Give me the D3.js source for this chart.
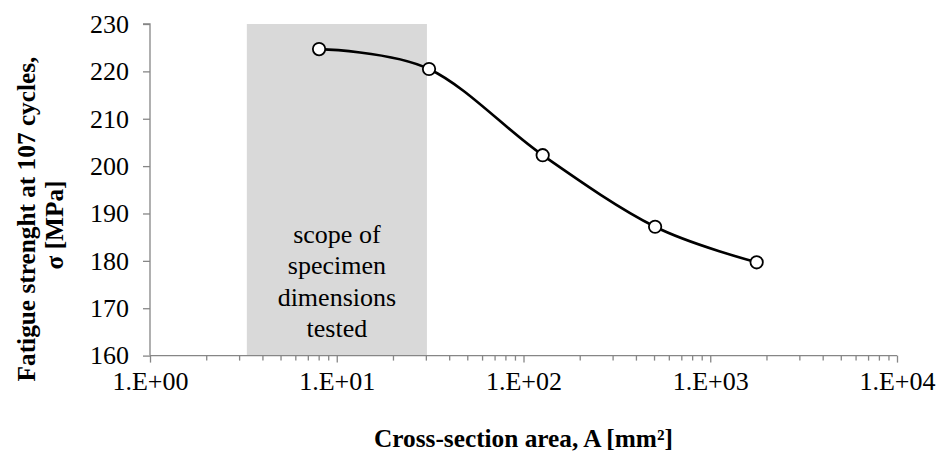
<!DOCTYPE html>
<html><head><meta charset="utf-8">
<script src="https://cdn.jsdelivr.net/npm/d3@7"></script>
<style>
html,body{margin:0;padding:0;background:#fff;}
svg{display:block;font-family:"Liberation Serif","Times New Roman",serif;}
</style></head>
<body>
<svg id="chart" width="936" height="453"></svg>
<script>
// Data
const areas = [8.04, 31.2, 126.7, 506.7, 1772];          // mm²
const strength = [224.7, 220.5, 202.3, 187.2, 179.7];    // MPa
const scopeRange = [3.3, 30.4];                          // mm²
const scopeLabel = ["scope of", "specimen", "dimensions", "tested"];
const yTickValues = [160, 170, 180, 190, 200, 210, 220, 230];
const xTickValues = [1, 10, 100, 1000, 10000];
const xTickLabels = ["1.E+00", "1.E+01", "1.E+02", "1.E+03", "1.E+04"];
const yTitle = ["Fatigue strenght at 107 cycles,", "σ [MPa]"];
const xTitle = "Cross-section area, A [mm²]";

(function () {
const svg = d3.select("#chart");
const L = 150, R = 897, T = 24, B = 355.6;
const x = d3.scaleLog().domain([1, 10000]).range([L, R]);
const y = d3.scaleLinear().domain([160, 230]).range([B, T]);
const axisColor = "#868686";
const tickFont = 26, titleFont = 25.3;

// scope rectangle
svg.append("rect")
  .attr("x", x(scopeRange[0])).attr("y", y(230))
  .attr("width", x(scopeRange[1]) - x(scopeRange[0]))
  .attr("height", y(160) - y(230))
  .attr("fill", "#d9d9d9");

const cx = (x(scopeRange[0]) + x(scopeRange[1])) / 2;
const st = svg.append("text").attr("text-anchor", "middle")
  .attr("font-size", 26).attr("fill", "#000");
scopeLabel.forEach((t, i) => {
  st.append("tspan").attr("x", cx).attr("y", 243 + i * 31.3).text(t);
});

// Y axis
const yAxis = d3.axisLeft(y).tickValues(yTickValues).tickSize(7).tickPadding(14).tickFormat(d3.format("d"));
const gy = svg.append("g").attr("transform", `translate(${L},0)`).call(yAxis);
gy.select(".domain").attr("stroke", axisColor).attr("stroke-width", 1.3).attr("d", `M-7,${T}H0V${B}`);
gy.selectAll(".tick line").attr("stroke", axisColor).attr("stroke-width", 1.3);
gy.selectAll(".tick text").attr("font-size", tickFont).attr("fill", "#000").attr("font-family", "Liberation Serif");

// X axis: minor ticks
const minor = [];
for (let e = 0; e < 4; e++) for (let m = 2; m <= 9; m++) minor.push(m * Math.pow(10, e));
const gxm = svg.append("g").attr("transform", `translate(0,${B})`)
  .call(d3.axisBottom(x).tickValues(minor).tickSize(5).tickFormat(""));
gxm.select(".domain").remove();
gxm.selectAll(".tick line").attr("stroke", axisColor).attr("stroke-width", 1.3);

const xAxis = d3.axisBottom(x).tickValues(xTickValues).tickSize(7).tickPadding(9)
  .tickFormat((d, i) => xTickLabels[i]);
const gx = svg.append("g").attr("transform", `translate(0,${B})`).call(xAxis);
gx.select(".domain").attr("stroke", axisColor).attr("stroke-width", 1.3).attr("d", `M${L},0H${R}`);
gx.selectAll(".tick line").attr("stroke", axisColor).attr("stroke-width", 1.3);
gx.selectAll(".tick text").attr("font-size", tickFont).attr("fill", "#000").attr("font-family", "Liberation Serif");

// Line
const pts = areas.map((a, i) => [a, strength[i]]);
const line = d3.line().x(d => x(d[0])).y(d => y(d[1])).curve(d3.curveCardinal.tension(0));
svg.append("path").datum(pts).attr("d", line)
  .attr("fill", "none").attr("stroke", "#000").attr("stroke-width", 2.6);

svg.selectAll("circle.pt").data(pts).enter().append("circle")
  .attr("class", "pt").attr("cx", d => x(d[0])).attr("cy", d => y(d[1]))
  .attr("r", 6.2).attr("fill", "#fff").attr("stroke", "#000").attr("stroke-width", 1.8);

// Axis titles
svg.append("text").attr("font-weight", "bold").attr("font-size", titleFont).attr("text-anchor", "middle")
  .attr("transform", "translate(35,219) rotate(-90)").text(yTitle[0]);
svg.append("text").attr("font-weight", "bold").attr("font-size", titleFont).attr("text-anchor", "middle")
  .attr("transform", "translate(63,225) rotate(-90)").text(yTitle[1]);

svg.append("text").attr("font-weight", "bold").attr("font-size", titleFont).attr("text-anchor", "middle")
  .attr("x", (L + R) / 2).attr("y", 447).text(xTitle);
})();
</script>
</body></html>
